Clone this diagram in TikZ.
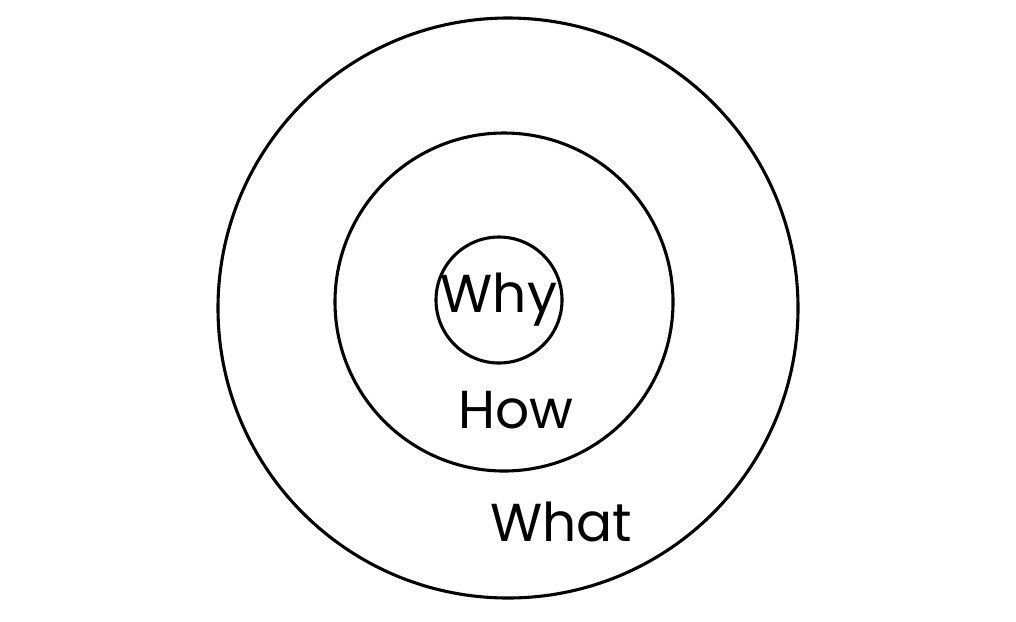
\documentclass[tikz,border=0pt]{standalone}
\usepackage{fontspec}
\setmainfont{Poppins}
\begin{document}
\begin{tikzpicture}[x=0.025cm, y=-0.025cm]
\tikzset{ring/.style={draw, circle, line width=2.2pt},
         word/.style={font=\fontsize{38}{40}\selectfont}}
\useasboundingbox (0,0) rectangle (1016,621);
% rings
\node[ring, minimum size=580*0.025cm] (what) at (508,308) {};
\node[ring, minimum size=338*0.025cm] (how) at (504,302) {};
\node[ring, minimum size=126*0.025cm] (why) at (499,300) {};
% labels
\node[word] (whylabel) at (why.center) {Why};
\node[word] (howlabel) at (516,410) {How};
\node[word] (whatlabel) at (561,522) {What};
\end{tikzpicture}
\end{document}
